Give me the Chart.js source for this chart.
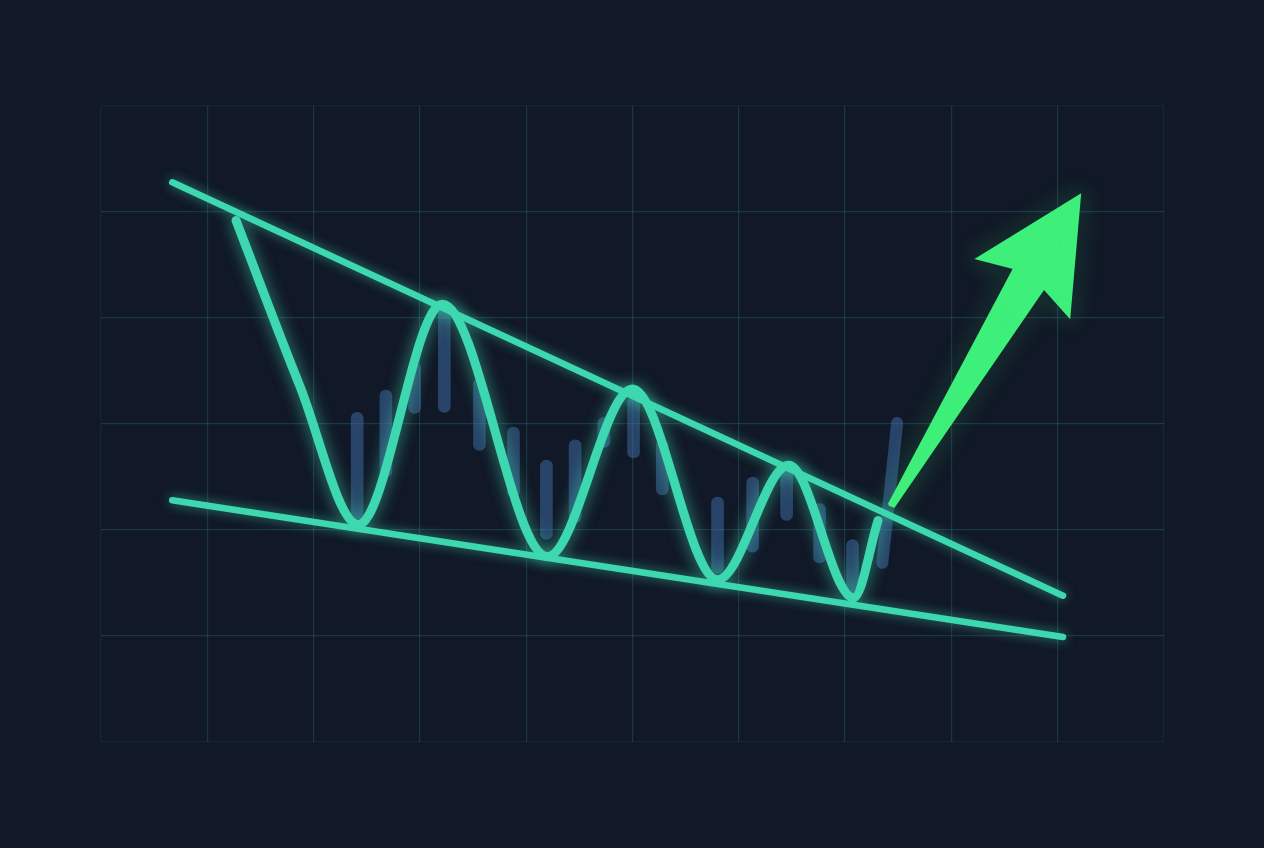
<!DOCTYPE html>
<html lang="en">
<head>
  <meta charset="UTF-8">
  <title>Falling Wedge Breakout</title>
  <script src="https://cdn.jsdelivr.net/npm/chart.js"></script>
  <style>
    html, body { margin: 0; padding: 0; background: #111827; }
    .wrap { width: 1264px; height: 848px; position: relative; }
  </style>
</head>
<body>
  <div class="wrap">
    <canvas id="wedge"></canvas>
  </div>

  <script>
    // price path (x = time index, y = price)
    const waveX = [1.27, 1.87, 2.42, 3.21, 4.20, 5.00, 5.80, 6.47, 7.08, 7.31];
    const waveY = [49.2, 33.6, 20.5, 41.3, 17.5, 33.3, 15.3, 26.1, 13.6, 20.9];

    // wedge boundaries
    const upperX = [0.67, 9.05];
    const upperY = [52.8, 13.8];
    const lowerX = [0.67, 9.05];
    const lowerY = [22.8, 9.9];

    // faint candles behind the path
    const candleX    = [2.41, 2.68, 2.95, 3.23, 3.56, 3.88, 4.19, 4.46, 4.73, 5.01, 5.28, 5.80, 6.13, 6.45, 6.76, 7.07];
    const candleLow  = [20.9, 25.0, 31.0, 31.1, 27.5, 23.1, 19.1, 20.7, 27.8, 26.8, 23.3, 15.9, 17.9, 20.9, 16.9, 13.7];
    const candleHigh = [31.1, 33.2, 35.8, 41.2, 34.3, 29.7, 26.6, 28.5, 30.6, 32.5, 28.5, 23.1, 25.0, 26.3, 22.5, 19.1];

    // breakout candle (slanted)
    const breakoutX = [7.35, 7.49];
    const breakoutY = [16.9, 30.1];

    // breakout arrow outline
    const arrowX = [7.41, 8.59, 8.24, 9.21, 9.11, 8.87, 7.46, 7.41];
    const arrowY = [22.4, 44.7, 45.6, 51.6, 40.1, 42.8, 22.2, 22.4];

    const pts = (xs, ys) => xs.map((x, i) => ({ x: x, y: ys[i] }));

    const teal = "#3ed8b0";
    const candleColor = "rgba(66, 118, 178, 0.48)";

    // soft neon glow for datasets that ask for it
    const glow = {
      id: "glow",
      beforeDatasetDraw(chart, args) {
        const ds = chart.data.datasets[args.index];
        if (!ds.glowColor) return;
        chart.ctx.save();
        chart.ctx.shadowColor = ds.glowColor;
        chart.ctx.shadowBlur = ds.glowBlur || 12;
      },
      afterDatasetDraw(chart, args) {
        const ds = chart.data.datasets[args.index];
        if (ds.glowColor) chart.ctx.restore();
      }
    };

    const gridColor = ctx => {
      const n = ctx.scale.ticks.length;
      if (ctx.index === 0 || ctx.index === n - 1) return "rgba(50, 130, 140, 0.12)";
      return "rgba(50, 130, 140, 0.30)";
    };

    new Chart(document.getElementById("wedge"), {
      type: "line",
      data: {
        datasets: [
          {
            label: "Breakout",
            data: pts(arrowX, arrowY),
            borderColor: "#3ef07a",
            backgroundColor: "#3ef07a",
            borderWidth: 2,
            borderJoinStyle: "miter",
            fill: "shape",
            tension: 0,
            pointRadius: 0,
            glowColor: "rgba(62, 240, 122, 0.9)",
            glowBlur: 22,
            order: 0
          },
          {
            label: "Price",
            data: pts(waveX, waveY),
            borderColor: teal,
            borderWidth: 9,
            borderCapStyle: "round",
            borderJoinStyle: "round",
            cubicInterpolationMode: "monotone",
            pointRadius: 0,
            fill: false,
            glowColor: "rgba(62, 216, 176, 0.7)",
            glowBlur: 16,
            order: 1
          },
          {
            label: "Resistance",
            data: pts(upperX, upperY),
            borderColor: teal,
            borderWidth: 6.5,
            borderCapStyle: "round",
            pointRadius: 0,
            fill: false,
            glowColor: "rgba(62, 216, 176, 0.6)",
            glowBlur: 12,
            order: 2
          },
          {
            label: "Support",
            data: pts(lowerX, lowerY),
            borderColor: teal,
            borderWidth: 6.5,
            borderCapStyle: "round",
            pointRadius: 0,
            fill: false,
            glowColor: "rgba(62, 216, 176, 0.6)",
            glowBlur: 12,
            order: 3
          },
          {
            label: "Breakout candle",
            data: pts(breakoutX, breakoutY),
            borderColor: candleColor,
            borderWidth: 12,
            borderCapStyle: "round",
            pointRadius: 0,
            fill: false,
            order: 4
          },
          {
            type: "bar",
            label: "Candles",
            data: candleX.map((x, i) => ({ x: x, y: [candleLow[i], candleHigh[i]] })),
            backgroundColor: candleColor,
            borderWidth: 0,
            borderSkipped: false,
            borderRadius: 6,
            barThickness: 12,
            order: 5
          }
        ]
      },
      options: {
        responsive: true,
        maintainAspectRatio: false,
        animation: false,
        layout: { padding: { left: 101, right: 100, top: 106, bottom: 106 } },
        plugins: {
          legend: { display: false },
          tooltip: { enabled: false }
        },
        scales: {
          x: {
            type: "linear",
            min: 0,
            max: 10,
            offset: false,
            ticks: { display: false, stepSize: 1 },
            grid: { color: gridColor, lineWidth: 1.2, drawTicks: false, offset: false },
            border: { display: false }
          },
          y: {
            type: "linear",
            min: 0,
            max: 60,
            ticks: { display: false, stepSize: 10 },
            grid: { color: gridColor, lineWidth: 1.2, drawTicks: false },
            border: { display: false }
          }
        }
      },
      plugins: [glow]
    });
  </script>
</body>
</html>
